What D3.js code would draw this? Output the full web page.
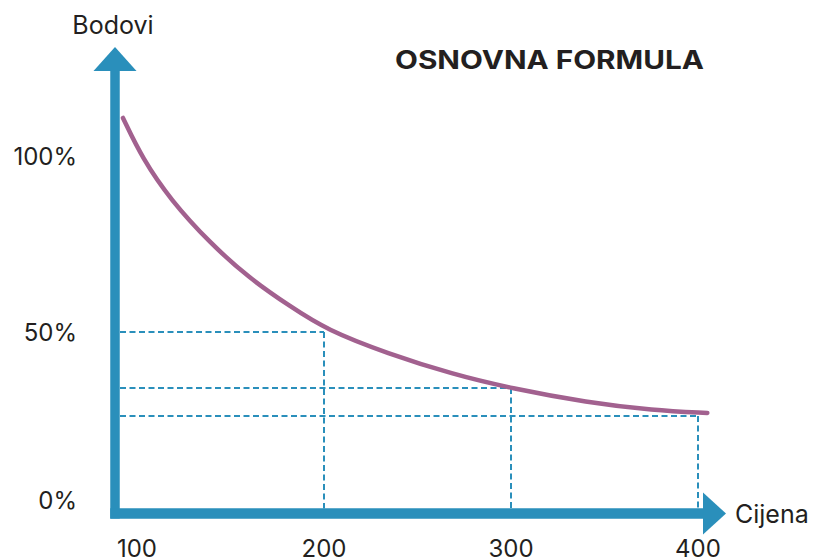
<!DOCTYPE html>
<html>
<head>
<meta charset="utf-8">
<script src="https://cdn.jsdelivr.net/npm/d3@7"></script>
<style>
  body { margin: 0; background: #fff; }
  text { font-family: Inter, "Liberation Sans", sans-serif; fill: #231f20; }
</style>
</head>
<body>
<svg id="chart"></svg>
<script>
const width = 813;
const height = 559;

// curve: price -> points (%)
const prices = [92.5, 103, 118, 139, 160, 182, 201.5, 234, 269, 299.5, 341, 376, 405];
const points = [113.7, 101.5, 89.3, 76.5, 66, 57.6, 50.6, 43.6, 37.4, 33.3, 29.0, 26.7, 25.9];

// dashed guide lines
const guidePrices = [200, 300, 400];
const guideValues = [50, 33.3, 25];

const xTicks = [100, 200, 300, 400];
const yTicks = [0, 50, 100];

const blue = '#2a8fbb';
const purple = '#a2618f';

const axisX = 115;
const axisY = 513.5;

const svg = d3.select('#chart')
    .attr('width', width)
    .attr('height', height);

const x = d3.scaleLinear().domain([100, 400]).range([137, 698]);
const y = d3.scaleLinear().domain([0, 100]).range([500, 164]);

// guide lines
const guides = guidePrices.map((p, i) => ({ price: p, value: guideValues[i] }));

svg.selectAll('.hguide').data(guides).enter().append('line')
    .attr('class', 'hguide')
    .attr('x1', axisX + 5)
    .attr('x2', d => x(d.price))
    .attr('y1', d => y(d.value))
    .attr('y2', d => y(d.value))
    .attr('stroke', blue)
    .attr('stroke-width', 2)
    .attr('stroke-dasharray', '6,3.5');

svg.selectAll('.vguide').data(guides).enter().append('line')
    .attr('class', 'vguide')
    .attr('x1', d => x(d.price))
    .attr('x2', d => x(d.price))
    .attr('y1', d => y(d.value))
    .attr('y2', axisY - 5)
    .attr('stroke', blue)
    .attr('stroke-width', 2)
    .attr('stroke-dasharray', '6,3.5');

// curve
const line = d3.line()
    .x(d => x(d.price))
    .y(d => y(d.value))
    .curve(d3.curveBasis);

svg.append('path')
    .datum(prices.map((p, i) => ({ price: p, value: points[i] })))
    .attr('fill', 'none')
    .attr('stroke', purple)
    .attr('stroke-width', 4.5)
    .attr('stroke-linecap', 'round')
    .attr('d', line);

// axes with arrows
svg.append('line')
    .attr('x1', axisX).attr('x2', axisX)
    .attr('y1', 70).attr('y2', axisY + 5)
    .attr('stroke', blue).attr('stroke-width', 9.5);

svg.append('line')
    .attr('x1', axisX - 4.75).attr('x2', 704)
    .attr('y1', axisY).attr('y2', axisY)
    .attr('stroke', blue).attr('stroke-width', 10.5);

svg.append('path')
    .attr('d', `M${axisX},47 L${axisX + 21.5},71 L${axisX - 21.5},71 Z`)
    .attr('fill', blue);

svg.append('path')
    .attr('d', `M726,${axisY} L703,${axisY - 21} L703,${axisY + 21} Z`)
    .attr('fill', blue);

// tick labels
svg.selectAll('.xlabel').data(xTicks).enter().append('text')
    .attr('class', 'xlabel')
    .attr('x', d => x(d))
    .attr('y', 557)
    .attr('text-anchor', 'middle')
    .style('font-size', '24px')
    .text(d => d);

svg.selectAll('.ylabel').data(yTicks).enter().append('text')
    .attr('class', 'ylabel')
    .attr('x', 77)
    .attr('y', d => y(d) + 8.5 - (d === 100 ? 8 : 0))
    .attr('text-anchor', 'end')
    .style('font-size', '24px')
    .text(d => d + '%');

// axis titles
svg.append('text')
    .attr('x', 113).attr('y', 34)
    .attr('text-anchor', 'middle')
    .style('font-size', '25px')
    .text('Bodovi');

svg.append('text')
    .attr('x', 735).attr('y', 523)
    .style('font-size', '25px')
    .text('Cijena');

svg.append('text')
    .attr('x', 395).attr('y', 69)
    .attr('textLength', 309)
    .attr('lengthAdjust', 'spacingAndGlyphs')
    .style('font-size', '25.5px')
    .style('font-weight', 'bold')
    .text('OSNOVNA FORMULA');
</script>
</body>
</html>
